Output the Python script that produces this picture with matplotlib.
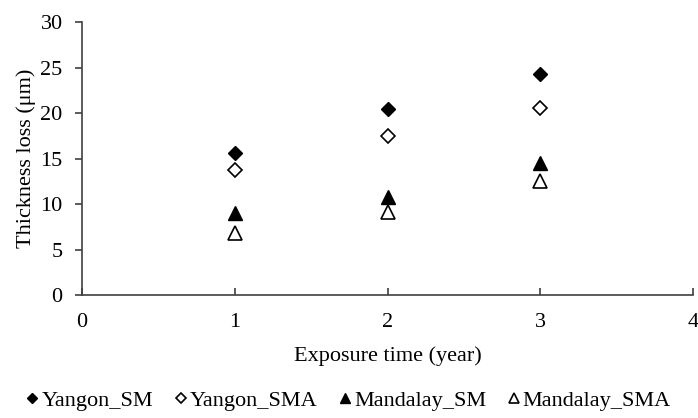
import matplotlib
matplotlib.use('Agg')
import matplotlib.pyplot as plt

plt.rcParams['font.family'] = ['Liberation Serif', 'DejaVu Serif']
plt.rcParams['font.size'] = 16

# exposure years
years = [1, 2, 3]

# thickness loss (um)
yangon_sm = [15.6, 20.4, 24.3]
yangon_sma = [13.8, 17.5, 20.6]
mandalay_sm = [9.0, 10.8, 14.5]
mandalay_sma = [6.8, 9.1, 12.5]

AXIS_COLOR = '#404040'

fig = plt.figure(figsize=(6.98, 4.18), dpi=100)
ax = fig.add_axes([0.1175, 0.294, 0.8755, 0.653])

ax.plot(years, yangon_sm, linestyle='none', marker='D', markersize=7,
        color='black', label='Yangon_SM')
ax.plot(years, yangon_sma, linestyle='none', marker='D', markersize=7,
        markerfacecolor='white', markeredgecolor='black', markeredgewidth=1.2,
        label='Yangon_SMA')
ax.plot(years, mandalay_sm, linestyle='none', marker='^', markersize=10,
        color='black', label='Mandalay_SM')
ax.plot(years, mandalay_sma, linestyle='none', marker='^', markersize=10,
        markerfacecolor='white', markeredgecolor='black', markeredgewidth=1.2,
        label='Mandalay_SMA')

ax.set_xlim(0, 4)
ax.set_ylim(0, 30)
ax.set_xticks([0, 1, 2, 3, 4])
ax.set_yticks([0, 5, 10, 15, 20, 25, 30])
ax.spines['top'].set_visible(False)
ax.spines['right'].set_visible(False)
for s in ['left', 'bottom']:
    ax.spines[s].set_color(AXIS_COLOR)
    ax.spines[s].set_linewidth(1.2)
ax.tick_params(axis='y', direction='out', length=5, width=1.2, color=AXIS_COLOR,
               labelsize=16, pad=9)
ax.tick_params(axis='x', direction='in', length=5, width=1.2, color=AXIS_COLOR,
               labelsize=16, pad=13)
ax.set_xlabel('Exposure time (year)', fontsize=16, labelpad=10)
ax.set_ylabel('Thickness loss (\u03bcm)', fontsize=16, labelpad=3)

fig.legend(loc='lower center', bbox_to_anchor=(0.5, -0.03), ncol=4, frameon=False,
           handlelength=0.5, handletextpad=0.15, columnspacing=1.0,
           fontsize=16, markerscale=0.7)

fig.savefig('out.png', dpi=100)
